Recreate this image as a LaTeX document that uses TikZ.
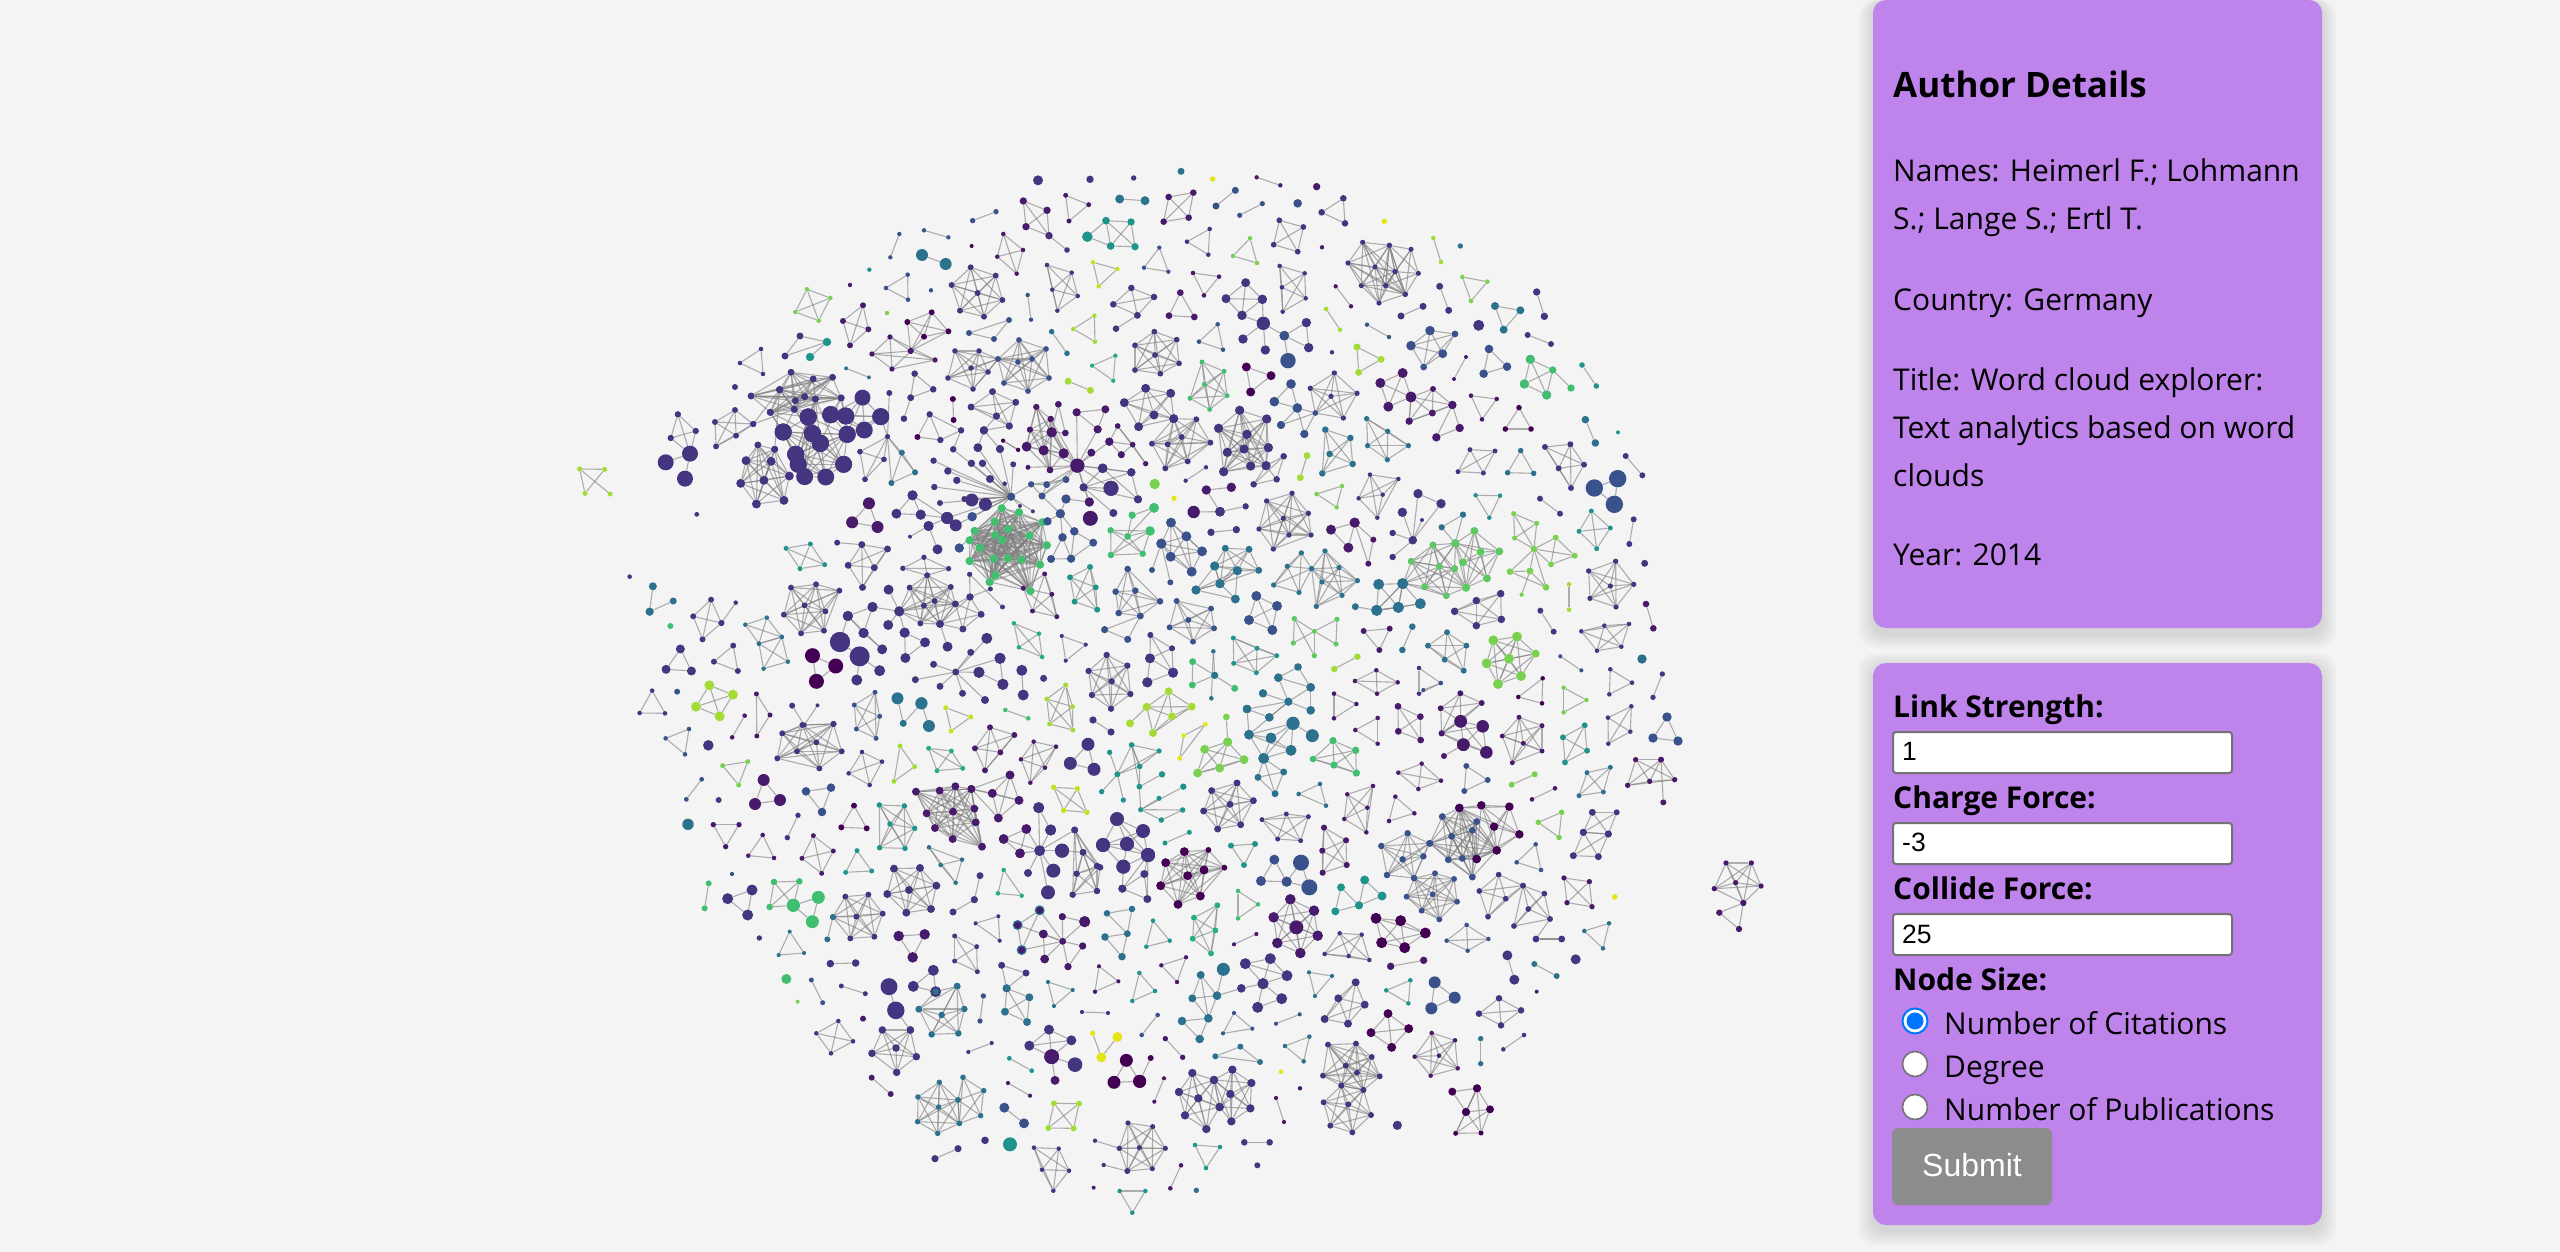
\documentclass[tikz,border=0pt]{standalone}
\usepackage{fontspec}
\setmainfont{Open Sans}
\newfontfamily\arialfont{Liberation Sans}
\definecolor{va}{HTML}{440154}
\definecolor{vb}{HTML}{481A6C}
\definecolor{vc}{HTML}{453581}
\definecolor{vd}{HTML}{3A528B}
\definecolor{ve}{HTML}{2C728E}
\definecolor{vf}{HTML}{1F948C}
\definecolor{vg}{HTML}{27AD81}
\definecolor{vh}{HTML}{42BE71}
\definecolor{vi}{HTML}{5EC962}
\definecolor{vj}{HTML}{7AD151}
\definecolor{vk}{HTML}{A5DB36}
\definecolor{vm}{HTML}{C8E020}
\definecolor{vl}{HTML}{E5E419}
\definecolor{pagebg}{HTML}{F4F4F4}
\definecolor{panelcol}{HTML}{BF83EC}
\definecolor{btncol}{HTML}{8C8C8C}
\definecolor{radiocol}{HTML}{0075FF}
\tikzset{
  dot/.style={circle,inner sep=0pt,draw=none},
  link/.style={draw=gray,line width=1.1pt,draw opacity=.62},
  panelbox/.style={fill=panelcol,rounded corners=13pt},
  body/.style={anchor=base west,inner sep=0pt,font=\fontsize{30}{34}\selectfont},
  head/.style={anchor=base west,inner sep=0pt,font=\fontsize{30}{34}\selectfont\bfseries},
  inputbox/.style={fill=white,draw=gray!90!black,line width=2pt,rounded corners=3pt},
  inputtxt/.style={anchor=base west,inner sep=0pt,font=\arialfont\fontsize{26.5}{30}\selectfont},
  radio/.style={circle,inner sep=0pt,minimum size=25pt,fill=white,draw=gray!90!black,line width=1.6pt},
  crop/.style n args={4}{shift={(#1,#2)},x=#3pt,y=-#4pt},
}
\newcounter{grpnum}
\gdef\alldots{}
\newcommand{\grpnodes}[3]{%
  \stepcounter{grpnum}%
  \foreach \px/\py/\pr [count=\i] in {#3}{%
    \ifx\pr\py\def\ps{#2}\else\let\ps\pr\fi
    \node[dot,minimum size=2*\ps] (n\thegrpnum-\i) at (\px,\py) {};
    \xdef\alldots{\unexpanded\expandafter{\alldots}\noexpand\fill[#1] (n\thegrpnum-\i.center) circle (\ps pt);}%
    \xdef\grpsize{\i}%
  }}
\newcommand{\grp}[3]{%
  \grpnodes{#1}{#2}{#3}%
  \foreach \a in {1,...,\grpsize}{\foreach \b in {1,...,\grpsize}{%
    \ifnum\a<\b \draw[link] (n\thegrpnum-\a) -- (n\thegrpnum-\b);\fi}}}
\newcommand{\hubgrp}[3]{%
  \grpnodes{#1}{#2}{#3}%
  \foreach \b in {1,...,\grpsize}{%
    \ifnum1<\b \draw[link] (n\thegrpnum-1) -- (n\thegrpnum-\b);\fi}}
\begin{document}
\begin{tikzpicture}[x=1pt,y=-1pt]
\fill[pagebg] (0,0) rectangle (2560,1252);
\useasboundingbox (0,0) rectangle (2560,1252);

% crop 620,150
\begin{scope}[crop={620}{150}{0.33333}{0.33333}]
\grp{vd}{2.2}{838/252,811/322}
\grp{vd}{2.2}{912/241,985/262}
\grp{vd}{2.7}{1058/212,1128/185}
\grp{ve}{6}{906/315,977/342}
\grp{va}{2}{1055/288}
\grp{vf}{2.2}{748/359}
\grp{vb}{2.2}{690/405}
\grp{vd}{2.2}{933/421}
\grp{vj}{2.2}{801/489}
\grp{vd}{2.3}{798/414,863/374,864/449}
\grp{vb}{2.3}{1150/252,1209/300,1132/320,1190/371}
\grp{vc}{3}{1052/352,1127/377,995/405,1073/429,1147/450,1020/482,1092/500}
\grp{vj}{2.3}{561/418,631/444,526/486,596/512}
\grp{vb}{3}{729/466,669/513,745/538,690/586}
\grp{va}{3}{935/487,862/516,985/544,912/560,872/603}
\end{scope}
\grp{vb}{2.7}{890/337,872/354,892/369,911/351,935/360}
\grp{vc}{3.5}{800/336,827/342,785/356}
\grp{vf}{4.2}{827/342,810/357}
\grp{vc}{2.3}{761/349,740/363,763/374}
\grp{vd}{3}{969/333,1009/320,994/339}
\grp{vc}{2.8}{955/351,979/351,998/359,948/378,973/389,971/368,988/372}
\grp{vd}{2.9}{1019/340,1046/349,1018/362,1032/359,1049/378,1004/383,1028/391,998/359}

% crop 560,340
\begin{scope}[crop={560}{340}{0.35714}{0.33333}]
\grp{vk}{2.5}{55/387,125/388,70/460}
\grp{vk}{2.5}{55/387,140/462}
\grp{vc}{3}{490/141}
\grp{ve}{2}{801/85,865/112}
\grp{vc}{3.3}{993/101,982/173,1045/148}
\grp{vc}{3.3}{982/173,963/236}
\grp{va}{3}{1100/177,1102/240}
\grp{va}{3}{1035/223,1001/291,1065/300}
\grp{vc}{3}{1035/223,1123/271}
\grp{vc}{3}{1065/300,1123/271}
\grp{vk}{3.5}{1423/124,1485/151}
\grp{vg}{2.2}{1490/77,1555/47,1549/122}
\grp{vc}{3.5}{647/97,709/117,763/112,535/168,615/149,659/182,685/170,715/177,787/174,656/208,589/217}
\grp{vc}{8.5}{695/231,625/276,707/281,729/310,660/343,667/373,794/373,685/410,744/411,804/283}
\grp{vc}{8.5}{847/173/8,898/230,800/228,758/224,852/270,804/283}
\hubgrp{vc}{3.5}{656/208,695/231/8.5,625/276/8.5,707/281/8.5,758/224/8.5,615/149,541/252/3}
\hubgrp{vc}{3.5}{615/149,541/252/3,601/328,729/310/8.5}
\hubgrp{vc}{3.5}{715/177,695/231/8.5,707/281/8.5,729/310/8.5,660/343/8.5,794/373/8.5,667/373/8.5}
\hubgrp{vc}{3.5}{589/217,625/276/8.5,660/343/8.5,707/281/8.5,695/231/8.5}
\hubgrp{vc}{3.5}{787/174,758/224/8.5,800/228/8.5,804/283/8.5,729/310/8.5}
\grp{vc}{3}{434/246,490/210,541/252,437/319,493/287}
\grp{vc}{4.5}{554/315/3.5,601/328/3.5,521/362,591/364,506/430,571/421,642/408,550/492,627/481}
\hubgrp{vc}{2.7}{917/290,922/159/3,898/230/8.5,840/335,907/358,854/418,957/338,928/429,994/397}
\grp{ve}{3}{957/338,994/397,928/429}
\grp{vc}{2.7}{840/335,907/358,854/418}
\grp{vb}{3}{330/223,380/273,310/294}
\hubgrp{vc}{8}{364/341,330/223/3,380/273/3,310/294/3,296/367,350/416}
\grp{vc}{2.4}{383/523}
\grp{vb}{6}{865/490,818/547,889/561}
\grp{vc}{5}{987/466,942/521,1010/524}
\hubgrp{vc}{5}{1084/534/6,1010/524,987/466,1032/558}
\hubgrp{vc}{5}{1032/558,980/590/2,1057/628}
\hubgrp{vc}{2.7}{1263/470/4,1046/362/3.2,1101/328/3.2,1086/393/3.7,1111/421/3.7,1048/441/3.2,1064/489/3,1132/477/3,1153/480/6.5,1191/493/6.5,1084/534/6,1108/556/6,1152/370/3.7,1183/370/3.7,1170/323/4.3,1232/327/4,1204/417/4,1269/373/3,1245/431/2.3,1319/433/3,1288/498/2,1324/514/2}
\hubgrp{vd}{4.7}{1263/470/4,1118/624,1154/530}
\grp{vc}{3}{1123/271,1101/328}
\grp{vc}{3}{1187/271/4,1170/323/4.3}
\grp{vc}{3}{1187/271/4,1232/327/4}
\grp{va}{2}{1241/302,1283/330}
\grp{vh}{4.2}{1237/505,1285/517,1217/545,1351/547,1255/567,1161/573,1219/585,1314/587,1147/601,1238/600,1363/616,1176/623,1147/663,1215/656,1254/655,1292/659,1344/674,1219/706,1203/726,1317/753}
\grp{vc}{3.5}{1211/155,1151/201,1276/187,1222/228,1258/258}
\hubgrp{vc}{3.5}{1187/271/4,1222/228,1258/258}
\hubgrp{vd}{4.2}{1401/521,1440/574,1407/592,1365/544}
\grp{vd}{4}{1375/657,1431/656,1407/592}
\grp{vd}{4}{1431/656,1440/574,1493/608}
\grp{vf}{2.5}{633/625,701/612,672/686,741/674}
\grp{vc}{3}{776/608,845/614}
\grp{vc}{3.5}{845/614,917/627,807/676,880/683,847/742}
\grp{vc}{2.7}{960/685,1019/652,1088/686,1028/706}
\grp{vc}{3}{1028/706,979/743,1094/741,1049/783,1019/797,1107/792,950/814/5,1009/850,1064/852}
\hubgrp{vc}{5}{950/814,920/749,875/801,919/855,965/878}
\hubgrp{vc}{5}{875/801,806/828,850/879}
\grp{vc}{5}{806/828,850/879,902/928}
\grp{vc}{5}{965/878,967/954,1022/907}
\grp{vc}{4}{1064/852,1085/920/5}
\grp{vc}{3.5}{1107/792,1148/771,1179/823,1128/867,1064/852}
\grp{vc}{2.5}{1147/703,1148/771/3.5}
\grp{vc}{2.5}{1147/703,1239/801}
\grp{vc}{2.5}{1148/771/3.5,1205/747}
\grp{vb}{2.5}{1297/745,1357/702,1377/763,1323/813,1391/830}
\grp{vf}{3}{1428/712,1484/681,1500/742,1441/785,1504/809}
\grp{vc}{2.3}{195/710}
\grp{ve}{4}{260/739,251/815}
\grp{ve}{4}{251/815,317/783/3.5}
\grp{vc}{3}{423/779,373/829,452/849,399/898}
\grp{vc}{2.3}{492/788,452/849/3}
\grp{vh}{3}{309/858}
\grp{ve}{2.3}{579/833,519/854,621/891,557/911}
\grp{ve}{2.3}{621/891,638/965,570/986,557/911}
\grp{vc}{3}{647/743,717/733,782/752,685/796,743/814,627/824,675/880,739/872}
\grp{vc}{4.5}{337/927,297/988,368/993}
\grp{vc}{3}{485/917,431/965,498/993}
\grp{va}{7.5}{707/947,772/978,718/1024}
\hubgrp{vc}{5.5}{839/949/10,784/906/10,831/1020,895/992}
\grp{vc}{5}{784/906/10,806/828}
\hubgrp{vc}{3.5}{1108/996,1150/937,1046/973,1173/997/5.5,995/1019,1064/1039,1127/1060,1190/1080/4,1195/895/5.5,1232/955/5.5}
\grp{vc}{5.5}{1232/955,1240/1033}
\grp{vc}{5.5}{1173/997,1240/1033}
\grp{vc}{5.5}{1293/991,1297/1065}
\grp{vc}{3.5}{1354/1015}
\grp{vg}{2.3}{1271/850,1341/881,1285/922,1350/951}
\grp{vc}{2.1}{1405/888,1472/914,1416/962}
\grp{vc}{2.3}{258/1052,223/1119,294/1120}
\grp{vd}{3}{328/1055}
\grp{vk}{5}{418/1036,484/1064,381/1100,447/1129}
\grp{vb}{2.5}{550/1062,588/1125,551/1188}
\grp{vb}{2.3}{517/1127,482/1192}
\grp{vm}{2.5}{1080/1103,1150/1131,1095/1173}
\grp{vh}{2.3}{1247/1110,1311/1135}
\hubgrp{vc}{2.5}{684/1155,650/1097/3,721/1096/2,622/1181,766/1152/3}
\grp{vd}{2.5}{824/1095,882/1057,895/1129,830/1167,885/1195}
\hubgrp{ve}{6}{961/1150/3.5,945/1075,1012/1090}
\grp{ve}{6}{1012/1090,1033/1158}
\grp{vk}{2.5}{1363/1077,1416/1035,1435/1100,1371/1152,1436/1170}
\end{scope}

% crop 1000,150
\begin{scope}[crop={1000}{150}{0.33333}{0.33333}]
\grp{vc}{5}{114/91}
\grp{vc}{3.7}{270/88}
\grp{vc}{2.7}{401/84}
\grp{ve}{3.5}{543/64}
\grp{vl}{2.7}{638/87}
\grp{vb}{2.2}{770/82,841/106}
\grp{vb}{3.7}{950/110}
\grp{vb}{3.7}{70/153,141/181,78/230,147/257}
\grp{vc}{2.8}{147/257,201/300}
\grp{vb}{2.5}{197/136,266/164,207/213}
\grp{ve}{4.5}{359/147,435/152}
\grp{vb}{3.3}{506/141,580/128,491/215,566/203}
\grp{vd}{3.5}{706/121,648/168}
\grp{vd}{2.6}{719/196,787/161}
\grp{vd}{4.3}{893/160}
\grp{vc}{3.3}{965/187,1030/145,1035/220}
\grp{vl}{2.7}{1153/214}
\grp{vf}{3.7}{318/212,393/216,332/288,405/290}
\hubgrp{vf}{3.7}{262/260/5.3,318/212,332/288}
\grp{vc}{2.3}{629/237,561/275,625/314}
\grp{vj}{2.3}{750/265,699/318,771/339}
\grp{vc}{2.9}{838/211,910/231,821/284,893/305}
\grp{vb}{2.2}{966/292}
\grp{vd}{2.2}{478/293,432/353,505/365}
\grp{vm}{2.3}{279/337,352/357,296/409}
\grp{vc}{2.3}{141/345,215/368,157/419,233/438,172/482}
\grp{vd}{2.2}{83/435,93/509}
\grp{ve}{2.8}{155/545,201/610}
\grp{vk}{2.3}{220/537,283/497,285/575}
\grp{vc}{3.3}{394/414,462/441,340/463,412/496}
\grp{vc}{3.3}{412/496,348/536}
\grp{vb}{2.3}{579/369,657/380,612/436}
\grp{vb}{3.4}{541/428,507/497,583/501}
\grp{vc}{4.5}{737/398,678/446,787/448,726/496}
\hubgrp{vc}{4.7}{790/520/6.7,787/448,726/496,729/567,796/600,853/557}
\grp{vc}{4.7}{853/557,919/518,926/593}
\grp{vd}{4.7}{853/557,864/632/7.7}
\grp{vc}{2.3}{839/348,914/370,846/412,917/445,848/485}
\grp{vc}{2.6}{1088/277,1168/286,1044/339,1125/351,1185/365,1084/407,1157/407,1137/459,1216/433}
\grp{vc}{2.6}{1168/286,1233/298,1185/365,1255/370,1216/433,1157/407}
\grp{vb}{2.2}{1007/409,1053/469}
\grp{vk}{2.3}{978/477,1020/539}
\grp{vd}{2.2}{1101/524,1167/561}
\grp{vd}{2.3}{653/523,597/575,669/599}
\grp{vc}{2.9}{463/545,530/569,405/586,465/615,537/640,405/660,481/671}
\grp{vh}{2.5}{606/636,672/664,613/703,570/745,681/737,629/778}
\grp{va}{4.5}{739/651,813/677,752/726}
\grp{vc}{2.2}{996/607}
\grp{vk}{3.5}{1071/591,1143/628,1076/667}
\grp{vb}{5}{1208/669,1141/699,1233/741,1165/770}
\grp{vb}{3.5}{1233/741/5,1228/813}
\hubgrp{vd}{4.7}{892/774,873/702,823/755,843/825/4,913/852/4}
\grp{vd}{4.7}{873/702,823/755}
\grp{vc}{2.7}{1003/669,931/715,993/739,1071/730,946/789,1030/804}
\hubgrp{vd}{4}{946/789/2.7,892/774/4.7,843/825,913/852}
\grp{ve}{3.3}{976/839,1051/864,989/912,1058/942,967/970}
\grp{ve}{2.7}{1100/806,1163/844,1103/887,1225/887,1162/929}
\grp{vc}{4.5}{373/758,437/715,512/730,462/795,416/830,521/806}
\grp{vc}{3}{521/806/4.5,589/808,545/861,456/881,503/883,631/878,563/934,496/955}
\grp{vc}{4.7}{719/781,800/807,656/835,741/853,682/907,732/897,805/893,671/965,752/948,798/947}
\grp{vc}{3.3}{851/919,761/1003,830/988,798/947}
\grp{vk}{3.5}{921/917,901/983}
\grp{vc}{2.2}{618/952,557/992}
\hubgrp{vb}{4.7}{619/1020,694/1012,660/1085}
\hubgrp{vb}{4.7}{660/1085,581/1086/6.2}
\grp{vc}{3.2}{660/1085/4.7,737/1069}
\grp{vj}{2.3}{950/1032,1026/1008,1010/1072}
\grp{vc}{2.3}{1110/974,1195/987,1076/1045,1148/1034,1132/1103}
\grp{vc}{2.7}{876/1030,800/1053,925/1090,850/1105,777/1137,933/1155,867/1155,820/1197}
\grp{vj}{5.2}{464/1002}
\grp{vl}{2.7}{522/1045}
% hub mass
\hubgrp{vb}{3.5}{232/947/7.2,230/787/4,293/838/4,152/807/3,155/847/5,191/910/5,131/901/5,328/875/4,274/908/4,308/955/4.7,394/967/4,251/1012/4,198/989/3.3,150/960/3.3,84/952/2.5,333/1015/7.5,140/1004/3.3,126/1038/3.3,268/1056/4.5}
\grp{vb}{4}{230/787,316/778,293/838}
\grp{vb}{2.7}{353/828,398/884,437/941}
\grp{vb}{3.2}{353/828/2.7,328/875/4}
\grp{vb}{3.6}{328/875/4,364/914,398/884/2.7}
\grp{vb}{3.2}{155/847/5,109/771,152/807,90/839,80/890/5,131/901/5,191/910/5,150/960}
\grp{vd}{3.3}{175/763,196/849}
\hubgrp{vb}{3.2}{155/847/5,175/763,196/849}
\hubgrp{vc}{4}{251/1012,333/1015/7.5,308/955/4.7,268/1056/4.5,340/1089/4,394/967,414/1048}
\grp{vc}{4}{394/967,414/1048,308/955/4.7}
\grp{vd}{3.3}{198/989,140/1004,94/1003/3,126/1038}
\grp{vb}{4.5}{198/1047,268/1056}
\hubgrp{vd}{4.7}{181/1091,198/1047/4.5,126/1038/3.3}
\grp{vb}{7.5}{271/1105}
\grp{va}{2}{9/872,54/899}
\grp{vh}{3.5}{397/1096,462/1073/4.8}
\end{scope}

% crop 1400,220
\begin{scope}[crop={1400}{220}{0.33333}{0.33333}]
\grp{vk}{2.3}{100/54,123/126}
\grp{ve}{2.7}{181/78}
\grp{vj}{2.3}{187/171,262/185,213/243}
\grp{vc}{3.5}{119/199,146/271}
\grp{vc}{3.5}{3/288,69/259}
\grp{vc}{3.7}{410/216,433/289}
\grp{ve}{4}{285/258,361/271,311/329}
\grp{vc}{5.5}{236/316}
\grp{vc}{3}{383/345,453/372}
\grp{vd}{4}{90/332/4.8,165/342/3.4,33/377/4.8,128/401/4.5,71/441/3.4}
\grp{vb}{2}{198/411,162/477}
\grp{vd}{4.3}{267/387,321/440,251/461}
\grp{ve}{4.5}{391/418,373/492,440/525}
\hubgrp{vh}{3.7}{458/450,391/418/4.5,373/492/4.5,440/525/4.5,513/504}
\grp{vf}{2.8}{546/435,589/498}
\grp{vb}{3.5}{99/507/3,157/555/4,97/579,27/604,33/531/5.5}
\grp{vb}{4.2}{157/555,109/652,179/624}
\grp{vb}{2.3}{213/527,290/537,246/598}
\grp{va}{2.8}{357/563,316/627,393/627}
\grp{ve}{3.8}{556/599,586/669}
\grp{vf}{2}{654/637}
\grp{vc}{2.5}{210/689,285/693,174/755,250/759}
\grp{ve}{2.8}{362/692,323/758,401/760}
\grp{vc}{3}{435/681,511/673,476/745,552/734,513/804}
\grp{vc}{3}{677/708,727/766}
\grp{vd}{8.7}{653/776,583/804,643/853}
\grp{vc}{4.7}{54/821,123/851,38/961/4}
\hubgrp{vc}{4}{38/961,7/877/4.7,66/900/2}
\grp{vf}{2.3}{227/826,300/827,268/893}
\grp{vc}{3}{420/836,480/881}
\grp{vf}{2.5}{574/873,537/934,631/924,590/986}
\grp{vc}{3}{701/898,688/972}
\grp{vc}{3.5}{734/1030}
\grp{vj}{2.6}{341/881,410/910,344/954,402/987}
\grp{vj}{3}{402/987,467/953,524/1007,453/1033}
\hubgrp{vj}{3.2}{402/987,330/1055,390/1053,438/1102}
\grp{vj}{3.2}{330/1055,390/1053,438/1102}
\grp{vj}{2.2}{390/1053/3.2,365/1124}
\grp{ve}{3}{189/884,125/922}
\grp{vi}{4}{223/933,166/970,298/994,242/996,189/1027,261/1075,198/1103}
\hubgrp{ve}{3}{166/970/4,189/884,125/922}
\grp{ve}{3.3}{99/975,34/1024,118/1039,164/1046,74/1100,139/1127,10/1090/4}
\hubgrp{vi}{4}{166/970,99/975/3.3,34/1024/3.3,118/1039/3.3,164/1046/3.3,74/1100/3.3}
\hubgrp{vi}{4}{198/1103,99/975/3.3,34/1024/3.3,118/1039/3.3,164/1046/3.3,74/1100/3.3,139/1127/3.3}
\grp{vc}{2.7}{566/1053,647/1024,701/1093,631/1098,570/1135,648/1161}
\end{scope}

% crop 1100,520
\begin{scope}[crop={1100}{520}{0.33333}{0.33333}]
\grp{vh}{3.3}{32/31,150/33/4.8,83/49,33/105,128/101}
\hubgrp{vh}{3.3}{83/49,96/-15/3.5,162/-36/4.8}
\grp{vd}{5}{213/8,184/71,259/49,212/110,306/94,275/155}
\hubgrp{vd}{3}{184/71/5,156/150,211/187}
\grp{vc}{3.7}{333/37,409/29}
\grp{vb}{5}{693/29,764/8,745/83}
\grp{vb}{3}{764/8/5,820/59,805/131}
\hubgrp{vc}{3.2}{938/61,878/39,878/111,939/60/4}
\grp{vd}{3.3}{83/147,47/215,106/212,56/279,121/288,180/244}
\grp{vd}{3.6}{14/329,121/288/3.3,83/358}
\grp{vd}{3}{230/243,333/266,265/300,209/322,342/325,279/365}
\grp{ve}{4.5}{376/85/3.5,447/88/3.5,344/138,412/152,476/151/3.5,360/191}
\grp{ve}{4.5}{344/138,288/210,360/191}
\grp{ve}{4.5}{288/210,406/237,360/191,412/152}
\grp{ve}{2.7}{604/99,562/139,635/146,521/195,597/217}
\grp{ve}{2.7}{675/93,635/146,717/143,666/186,772/182,726/226,649/259}
\grp{ve}{5.5}{836/193,908/191,830/271,895/262}
\grp{ve}{5.5}{908/191,895/262,961/251,830/271}
\grp{ve}{3.5}{766/260,830/271/4.5}
\grp{vd}{5}{469/228,531/258,447/300,517/330}
\hubgrp{vi}{2.5}{643/334,583/296,711/298,580/369,708/372,643/407}
\grp{vi}{2.5}{583/296,580/369}
\grp{vi}{2.5}{583/296,643/407}
\grp{vi}{2.5}{711/298,708/372}
\grp{vb}{3}{791/333,869/326,838/390}
\grp{ve}{3.3}{937/320,907/390}
\grp{vc}{2.8}{151/345,216/385}
\hubgrp{vc}{5}{150/415,151/345/2.8,216/385/2.8,219/458,142/487}
\hubgrp{vc}{5}{219/458,151/345/2.8,216/385/2.8,142/487}
\grp{vh}{3.5}{278/425,277/495,344/466}
\hubgrp{vh}{3.5}{344/466,404/505}
\hubgrp{ve}{2.3}{340/394,344/466/3.5,334/535}
\grp{vf}{2.5}{400/354,471/385,401/430,530/407,469/458}
\grp{vk}{3.3}{703/447,772/410}
\hubgrp{ve}{4.2}{565/545,535/473,632/502,489/520,441/567,508/592,632/571,447/644/4.7}
\grp{ve}{4.2}{594/441/3.8,535/473,632/502}
\grp{ve}{4.2}{632/502,632/571}
\grp{ve}{4.2}{441/567,508/592}
\grp{ve}{4.7}{441/567/4.2,447/644}
\grp{ve}{5.5}{447/644/4.7,579/610/6.5,513/654,573/691,491/715}
\grp{ve}{6.5}{579/610,637/647}
\grp{ve}{3.5}{491/715/5,474/772,551/756,525/821}
\grp{vb}{2.3}{765/483,829/451,893/487,831/521}
\grp{vc}{2.3}{957/444,1022/489,957/521}
\grp{vb}{2.3}{702/521,769/552,702/595}
\grp{vb}{2.3}{766/630,833/594,833/671}
\grp{vb}{3.4}{894/559,961/590,895/634,962/660}
\grp{vk}{4}{140/561,206/514,275/560,216/589,159/639}
\grp{vk}{4}{90/610,140/561}
\grp{vc}{3.6}{33/636,-21/600}
\grp{vc}{3.2}{20/405,82/437,35/484,91/522,33/566,-34/453,-24/525}
\grp{vl}{2.4}{251/647,316/613,239/715}
\grp{vj}{3.4}{379/591,383/666/4.5}
\grp{vj}{4.5}{383/666,314/688,432/719,293/759,359/744}
\grp{vf}{2.7}{29/697,52/763}
\grp{vf}{2.7}{95/675,177/693,52/763,119/739}
\grp{vf}{2.7}{95/675,118/800,119/739}
\grp{vf}{2.7}{52/763,70/840}
\grp{vf}{2.7}{52/763,5/815}
\grp{vf}{3.2}{118/800/2.7,186/763}
\hubgrp{vf}{2.6}{122/869,118/800,250/800/3.2,177/835,248/870,184/900}
\grp{vf}{2.6}{248/870,184/900}
\grp{vh}{3.7}{699/662,767/691,702/735,769/759,639/717/3.3}
\grp{ve}{2.3}{596/822,660/792,678/857}
\grp{vc}{3.5}{335/812,411/789,390/853,460/842,311/873,353/927,422/914}
\grp{vc}{2.5}{486/899,559/882,625/890,533/957,602/962}
\grp{vb}{2.3}{742/823,819/798,802/863,733/897,799/937}
\grp{vb}{2.3}{886/830,943/880,867/903}
\grp{vb}{2.3}{895/758,965/731,1023/782,955/807}
\grp{vb}{3.1}{672/923,738/961,667/992,740/1035,668/1058}
\grp{vd}{3.3}{923/940,844/978,988/970,908/1018,970/1009,861/1065,942/1074}
\grp{vf}{2.5}{268/937,195/969}
\grp{vf}{3}{393/977,465/972,432/1035}
\end{scope}

% crop 1430,580
\begin{scope}[crop={1430}{580}{0.33333}{0.33333}]
\grp{vc}{3.8}{139/62,74/94,212/41,139/137,214/118}
\grp{vk}{2.3}{417/13,417/89}
\grp{vb}{3.3}{648/72,670/145}
\grp{vc}{3}{331/92,371/155}
\grp{vc}{2.3}{454/154,523/137,597/132,501/212,574/200}
\grp{vd}{2.1}{391/229,454/271}
\grp{ve}{4.7}{636/237}
\grp{ve}{3}{51/157,109/197,-6/197,44/239,101/272}
\grp{vj}{5}{190/181,261/170,317/221/4,237/236,170/250,273/288,204/312}
\grp{vc}{2.3}{541/268,606/308,538/343}
\grp{vc}{2.7}{697/282,669/352}
\grp{va}{2.3}{338/295,265/351,336/370}
\grp{vj}{2.3}{401/323,469/360,401/397}
\grp{vd}{2.1}{33/309,-20/330}
\grp{vc}{2.3}{604/379,534/413,601/455,535/491}
\grp{vd}{4.7}{711/411,669/474,744/483}
\grp{vb}{3}{91/340,155/369,32/385,35/460,92/424/6.3}
\grp{vb}{6.3}{92/424,158/439,100/494,169/517,35/460/3}
\grp{vb}{3}{100/494/6.3,42/528}
\grp{vb}{2.5}{267/412,336/437,217/468,280/490,336/513,247/548}
\grp{vf}{3}{464/436,399/472,471/512,405/547}
\grp{vd}{3}{109/558,173/600,103/633}
\grp{vj}{3}{314/583,245/614}
\grp{vb}{2.3}{375/625,306/658}
\grp{ve}{2.5}{471/578,541/562,447/647,520/636}
\grp{vb}{2.7}{617/539,693/539,593/616,659/604,734/599}
\grp{vb}{3}{693/539,700/667}
\grp{vd}{3.5}{37/710,140/725,127/751,65/769,0/790,55/839,97/835,127/891,88/684/4.3,140/837/4.3,200/811/4.3}
\grp{va}{4.3}{88/684,154/676,238/680,192/740,268/763,200/811,140/837}
\grp{vj}{2.8}{325/727,395/697,387/772}
\grp{vc}{3.5}{487/697,560/697/3,460/757,535/762}
\grp{vc}{3.5}{460/757,535/762,430/827,505/830}
\grp{vd}{2.3}{317/793,260/847,333/870}
\grp{vc}{2.9}{279/917,343/941,295/987,360/1017,252/1038}
\grp{vc}{2.9}{206/884,148/933,279/917,227/956,174/1010}
\grp{vb}{2.7}{402/894,478/905,411/968,486/980}
\grp{vl}{2.8}{554/951}
\grp{vb}{2.7}{888/849,964/849,853/926,917/908,993/918,940/969}
\grp{vb}{3.2}{940/969,868/998,927/1047}
\end{scope}

% crop 620,730
\begin{scope}[crop={620}{730}{0.33333}{0.33333}]
\grp{vd}{2.3}{137/25,207/-3,195/73}
\grp{vc}{5.3}{265/46}
\grp{vc}{3}{487/10,531/64,589/37,665/64,472/85,598/115,547/-15,640/-18}
\grp{vc}{2.3}{726/66,786/95,686/130,749/165}
\grp{vk}{2.5}{840/48,884/110,822/154}
\grp{vg}{2.5}{926/55,994/63,1028/115,951/122}
\grp{vb}{3}{1065/55,1183/15,1141/67,1095/121,1110/-8}
\grp{vb}{2.3}{1241/35,1308/50,1203/88,1275/113,1231/158}
\grp{vm}{2.7}{1301/172,1372/176,1331/241,1401/247}
\grp{vc}{6.5}{1404/43,1351/100,1422/118}
\grp{vj}{2.5}{308/107,383/95,356/165}
\grp{vb}{6}{431/150,405/222,480/210}
\grp{vd}{2.4}{245/148,199/208}
\grp{vc}{3}{296/210}
\grp{vd}{4.3}{558/184,633/173,606/246}
\grp{ve}{5.7}{204/283}
\grp{vc}{2.7}{534/256,502/323}
\grp{vb}{2.7}{280/284,357/284,317/350}
\grp{va}{3}{702/227,664/292,740/295}
\grp{vb}{2.3}{428/315,385/377,462/384}
\grp{vb}{2.5}{580/317,640/363,546/385,605/430}
\grp{vf}{2.8}{778/225,853/228,810/282,884/295,779/353,855/355}
\grp{vb}{4}{888/185,959/182,1006/169,1054/177,920/250,999/245,1063/236,945/294,1067/277,998/327,1086/350}
\grp{vb}{4.5}{1054/177/4,1170/135,1117/190,1197/211,1135/264}
\hubgrp{vc}{5.5}{1259/362,1256/233,1219/297/4.8,1292/300,1151/327/4.8,1200/370/4.8,1326/362/7,1364/300/3.5,1300/422/7,1224/429/4,1284/487/7}
\grp{vc}{5.5}{1256/233,1292/300}
\grp{vb}{4.8}{1151/327,1219/297,1200/370}
\grp{vc}{3.3}{1364/300,1389/367,1370/431,1358/494,1431/483,1440/412,1431/408}
\grp{vc}{3.4}{1326/362/7,1389/367}
\grp{ve}{2.3}{927/352,1026/389,962/405,1007/458}
\grp{vf}{2.5}{711/362,677/427,755/423}
\grp{vh}{3}{266/460,254/535}
\grp{vd}{2.1}{336/432}
\grp{vc}{5.5}{396/480,323/506,383/555}
\grp{vh}{3.3}{462/456,538/454,449/531,520/526/6.5}
\grp{vh}{6.5}{520/526,595/502,577/575}
\grp{vc}{3}{676/500,745/494,788/551,639/561,709/560,691/625,763/620}
\grp{ve}{3}{622/628,639/561}
\grp{vc}{4}{822/416,900/414,949/467,867/480,802/492,859/548,933/537}
\grp{vb}{5.3}{836/618,914/613,878/682}
\grp{vc}{3.5}{1080/437,1063/509}
\grp{vc}{3.5}{1063/509,999/546}
\grp{vg}{2.3}{1151/420,1134/490,1205/497}
\grp{vc}{2.1}{1135/559,1067/580,1139/632}
\grp{vc}{2.5}{1004/618,1070/650,1004/693,1072/725}
\grp{ve}{5}{1259/541,1193/585,1205/660}
\hubgrp{vb}{3.5}{1328/634,1259/541,1193/585,1205/660,1327/560,1394/575/5.5,1270/612/4.3,1388/648,1274/687/4.3,1344/710}
\grp{vb}{3.5}{1327/560,1394/575/5.5}
\grp{vb}{4.3}{1270/612,1274/687}
\grp{vb}{3.5}{1388/648,1344/710}
\grp{vc}{2.7}{418/624}
\grp{ve}{2.1}{509/605,476/675,552/669}
\grp{vc}{3.8}{631/701,707/699}
\grp{vh}{5}{499/747}
\grp{vd}{2.5}{574/750,608/818}
\grp{vc}{2.5}{664/768,736/791}
\grp{vj}{2}{533/815}
\grp{vc}{8.5}{807/770,827/840}
\grp{vc}{5.5}{940/721,880/769,947/785}
\grp{vd}{2.7}{1090/798,1080/873}
\grp{vc}{3.5}{1145/706,1218/729,1160/775/4}
\grp{ve}{4}{1160/775,1228/802,1155/845,1221/876}
\grp{ve}{2.1}{1284/756,1358/780,1302/828}
\grp{vb}{2}{1425/785}
\hubgrp{ve}{3.3}{947/785,896/838,1012/769}
\end{scope}

% crop 690,1000
\begin{scope}[crop={690}{1000}{0.33333}{0.33333}]
\grp{ve}{3.3}{801/-42,687/27,823/27,755/45,725/103,805/100}
\grp{vb}{3}{519/56}
\grp{vc}{2.3}{445/63,379/100,489/124,423/160}
\grp{vc}{3.8}{577/90,661/90,618/144,546/160,679/170,620/217}
\grp{vc}{8.5}{618/32,661/90/3.8}
\grp{vb}{3}{545/233,602/282}
\grp{vc}{2.1}{1176/36,1254/39}
\grp{vc}{2.1}{905/129,835/156}
\grp{vc}{5}{1077/89,1018/137,1144/121,1085/170/7.3}
\grp{vc}{7.3}{1085/170,1155/194}
\grp{vb}{4.5}{1085/170/7.3,1095/241}
\grp{vf}{2.4}{958/175,1025/212}
\grp{vb}{2.1}{954/249,1020/287}
\grp{vk}{3}{1092/310,1167/311,1075/384,1151/385}
\grp{vd}{5}{943/323,1002/370}
\grp{ve}{2.8}{684/291,748/247,804/300,746/321,683/365,743/400,808/370}
\grp{ve}{2.8}{819/232,881/272,804/300,872/347,808/370}
\grp{vf}{7}{960/433}
\grp{vc}{3.8}{885/421}
\grp{vc}{3.6}{804/446,735/476}
\grp{vc}{2.3}{1032/443,1106/446,1056/509,1137/512,1090/572}
\end{scope}

% crop 1090,850
\begin{scope}[crop={1090}{850}{0.33333}{0.33333}]
\grp{vc}{7}{81/-93,159/-57,39/-15,111/-18,174/15}
\hubgrp{vc}{7}{100/50,174/15,39/-15,111/-18}
\grp{vc}{4}{174/15/7,163/72,172/147,97/116}
\grp{vc}{4}{100/50/7,97/116}
\grp{va}{4.5}{227/38,283/5,355/0/3,342/60,293/77,403/53/3,212/107,331/138,264/163}
\grp{vd}{5}{553/29,513/93,590/95}
\grp{vd}{5}{633/38/8,590/95,658/112/8}
\grp{vf}{4}{753/112,736/184,807/166}
\grp{vf}{4.5}{824/90,807/166/4,876/138}
\grp{vh}{2.3}{444/123,504/163,444/205}
\grp{vb}{5.3}{601/148,672/182,551/202,619/232/7,683/257,562/279,631/309}
\grp{ve}{3.3}{51/190,126/177,112/251}
\grp{ve}{3.8}{112/251/3.3,45/261,96/320}
\grp{vf}{2.3}{189/212,169/290,239/272}
\grp{vg}{3}{312/203,382/166,376/241,308/266,363/310}
\grp{vb}{2.1}{499/252,432/283}
\grp{va}{5.5}{858/205,932/212,1006/249,875/278,944/293}
\grp{vc}{2.3}{749/250,815/254,704/312,776/318,838/330}
\grp{vb}{3.7}{902/349,1001/331}
\grp{vd}{2.3}{1130/225,1070/272,1195/267,1133/302}
\grp{vd}{3}{950/140,1035/70,1092/87,1028/133,1101/155,995/182,1048/208,973/85}
\grp{vb}{2.1}{27/349,85/394,15/425}
\grp{vf}{2.3}{148/369,195/423,127/453}
\grp{vb}{2.2}{214/346,288/322,261/396}
\grp{ve}{4}{332/375,307/445,381/437,355/505}
\grp{ve}{4.2}{400/358/6.5,381/437}
\grp{ve}{4.2}{454/415,381/437}
\grp{ve}{4.3}{355/505,276/513,329/567}
\grp{vc}{5.5}{466/341,541/326,591/377,519/401}
\grp{vc}{5.5}{519/401,575/446,503/472}
\grp{vc}{5}{454/415/4.2,519/401}
\grp{ve}{2.1}{657/367,726/378,675/438}
\grp{vc}{4}{797/397,745/445,824/464,704/507,774/521}
\grp{vf}{2.3}{889/421,961/391,955/460}
\grp{vd}{6}{1034/397,1094/443,1024/475}
\grp{va}{4.5}{894/491,843/548,956/536,905/592}
\grp{vb}{2.3}{1025/549,974/620,1095/571,1047/617,1103/655,1022/677}
\grp{vd}{2.3}{203/495,155/555}
\grp{vd}{2.1}{432/489,399/550,487/536}
\grp{vd}{2.1}{629/493,558/521}
\grp{ve}{2.3}{658/560,585/588,641/634}
\grp{vb}{2.7}{226/566,278/622}
\grp{ve}{3}{451/590,376/619,510/636}
\hubgrp{vl}{5}{34/622,8/550/2.7,82/561}
\grp{va}{6.5}{109/631,72/697,149/694}
\grp{va}{3}{182/624,149/694/6.5}
\grp{vb}{2.1}{222/685,193/755}
\grp{vl}{2.3}{573/665}
\grp{vb}{2.2}{630/715}
\grp{vb}{2.1}{558/744,582/816}
\grp{vc}{3}{714/584,798/581,845/621,767/647,801/668,699/677,869/679,754/707,820/720}
\grp{vc}{3}{754/707,820/720,701/757,775/763,843/795,721/827,787/847}
\grp{vc}{4.6}{922/826}
\grp{vc}{4.2}{307/669,372/690,267/726,325/745,389/771,285/796,349/837}
\grp{vc}{4.2}{372/690,427/659,484/699,421/732,389/771,481/775,424/814}
\grp{va}{4}{1087/725,1161/715,1128/786}
\grp{va}{4}{1128/786,1161/715,1200/778,1097/850/2.5,1173/849/2.5}
\grp{vc}{2.6}{114/819,188/830,88/895,148/893,226/895,112/963,187/956}
\grp{vc}{2.2}{15/872,88/895/2.6}
\grp{vc}{2.2}{41/945,112/963/3}
\grp{vf}{2.3}{315/885,390/891,348/954}
\grp{vc}{3.3}{463/877,539/877}
\grp{vc}{3}{502/946}
\grp{vb}{2.3}{273/946,241/1015}
\grp{vb}{2}{11/1013}
\grp{ve}{2.7}{319/1021}
\grp{vf}{2.3}{89/1023,166/1023,127/1088}
\end{scope}

% crop 1480,900
\begin{scope}[crop={1480}{900}{0.33333}{0.33333}]
\hubgrp{vc}{3.3}{168/117,245/117,210/57/2.7}
\grp{vc}{3.3}{168/117,245/117}
\grp{ve}{2.3}{313/93,387/70,369/145}
\grp{vc}{5}{82/166,103/239}
\grp{ve}{3}{163/192,230/228}
\grp{vc}{5}{287/178}
\grp{vb}{2}{170/275}
\grp{vc}{3.3}{57/295,123/331,-3/341,63/376}
\grp{vc}{2.3}{132/405,70/448}
\grp{ve}{2.7}{2/416,2/491}
\end{scope}

\alldots

% panels
\foreach \s in {14,11,8,5,2}{
  \fill[black,opacity=.022,rounded corners=16pt] (1873-\s,0) rectangle (2322+\s,628+\s+6);
  \fill[black,opacity=.022,rounded corners=16pt] (1873-\s,663-\s+4) rectangle (2322+\s,1225+\s+6);
}
\path[panelbox] (1873,0) rectangle (2322,628);
\path[panelbox] (1873,663) rectangle (2322,1225);

\node[anchor=base west,inner sep=0pt,font=\fontsize{35}{40}\selectfont\bfseries] (title) at (1893,98) {Author Details};
\node[body] (names) at (1893,182) {Names: Heimerl F.; Lohmann};
\node[body] (names2) at (1893,230) {S.; Lange S.; Ertl T.};
\node[body] (country) at (1893,310) {Country: Germany};
\node[body] (paper) at (1893,390) {Title: Word cloud explorer:};
\node[body] (paper2) at (1893,438) {Text analytics based on word};
\node[body] (paper3) at (1893,486) {clouds};
\node[body] (year) at (1893,565) {Year: 2014};

\node[head] (linklab) at (1893,717.5) {Link Strength:};
\path[inputbox] (1893,732) rectangle (2232,773);
\node[inputtxt] (linkval) at (1902,760.5) {1};
\node[head] (chargelab) at (1893,808.5) {Charge Force:};
\path[inputbox] (1893,823) rectangle (2232,864);
\node[inputtxt] (chargeval) at (1902,851.5) {-3};
\node[head] (collidelab) at (1893,899.5) {Collide Force:};
\path[inputbox] (1893,914) rectangle (2232,955);
\node[inputtxt] (collideval) at (1902,943) {25};
\node[head] (sizelab) at (1893,990.5) {Node Size:};

\node[radio,draw=radiocol,line width=2pt] (cite) at (1915,1021) {};
\fill[radiocol] (cite.center) circle (8.5pt);
\node[radio] (degree) at (1915,1064) {};
\node[radio] (pubs) at (1915,1107) {};
\node[body] (citelab) at (1944,1034) {Number of Citations};
\node[body] (degreelab) at (1944,1077) {Degree};
\node[body] (pubslab) at (1944,1120) {Number of Publications};

\path[fill=btncol,rounded corners=6pt] (1892,1128) rectangle (2052,1205);
\node[anchor=base,inner sep=0pt,text=white,font=\arialfont\fontsize{32}{36}\selectfont] (submit) at (1972,1176) {Submit};
\end{tikzpicture}
\end{document}
